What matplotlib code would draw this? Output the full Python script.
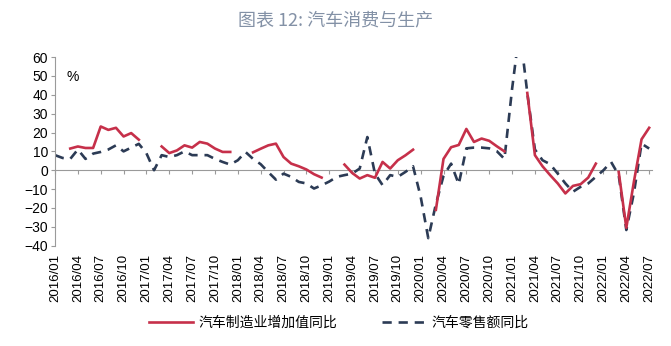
import numpy as np
import matplotlib
matplotlib.use("Agg")
from matplotlib import pyplot as plt

plt.rcParams['font.family'] = ['Liberation Sans', 'Noto Sans CJK SC', 'DejaVu Sans']

nan = np.nan

# Months 2016/01 .. 2022/07
months = ["%d/%02d" % (2016 + k // 12, k % 12 + 1) for k in range(79)]

# 汽车制造业增加值同比 (%)
manuf = [nan, nan, 11.5, 12.6, 11.8, 11.8, 23.2, 21.4, 22.5, 17.9, 19.7, 16.2,
         nan, nan, 12.6, 9.1, 10.5, 13.2, 12.0, 15.0, 14.1, 11.5, 9.7, 9.7,
         nan, nan, 9.5, 11.4, 13.2, 14.1, 7.0, 3.5, 2.1, 0.4, -2.1, -3.9,
         nan, nan, 3.0, -1.4, -4.4, -2.6, -4.0, 4.4, 0.9, 5.3, 7.9, 10.9,
         nan, nan, -21.0, 6.0, 12.2, 13.4, 21.9, 15.0, 16.8, 15.6, 12.7, 10.0,
         nan, nan, 41.0, 8.0, 2.1, -2.6, -7.0, -12.3, -8.3, -7.4, -3.9, 3.5,
         nan, nan, -0.9, -30.5, -6.0, 16.4, 22.5]

# 汽车零售额同比 (%)
retail = [8.0, 6.5, 6.0, 11.0, 6.0, 8.8, 9.7, 11.0, 13.2, 10.0, 12.0, 14.0,
          9.0, 0.0, 8.0, 7.0, 8.0, 10.0, 8.0, 8.0, 8.0, 6.0, 4.4, 3.0,
          5.3, 9.7, 6.0, 3.2, -1.0, -5.0, -1.8, -3.5, -6.2, -7.0, -9.7, -8.0,
          -6.0, -3.5, -2.6, -1.8, 0.9, 17.6, -1.8, -7.9, -2.6, -3.5, -0.9, 2.1,
          -14.0, -36.0, -18.0, -3.0, 3.5, -7.4, 11.6, 12.0, 12.0, 11.6, 10.1, 6.0,
          43.0, 75.0, 41.0, 11.0, 5.3, 3.2, -1.8, -7.0, -11.4, -8.8, -7.0, -3.5,
          0.0, 4.4, -2.6, -31.7, -12.0, 14.1, 11.5]

x = np.arange(len(months))
red = '#c6304a'
navy = '#2c3b55'
grey = '#9a9a9a'

fig = plt.figure(figsize=(6.71, 3.46), dpi=100)
ax = fig.add_axes([0.082, 0.29, 0.89, 0.545])

ax.plot(x, manuf, color=red, lw=1.9, label='汽车制造业增加值同比', zorder=3)
ax.plot(x, retail, color=navy, lw=1.9, dashes=(3.5, 2.6),
        label='汽车零售额同比', zorder=2)

ax.set_ylim(-40, 60)
ax.set_xlim(0, 78.4)
ax.set_yticks(np.arange(-40, 61, 10))
ax.tick_params(axis='y', labelsize=10, length=3, color=grey, pad=2)

ax.set_xticks(x[::3])
ax.set_xticklabels(months[::3], rotation=90, fontsize=9.5)
ax.tick_params(axis='x', length=0, pad=6)

for s in ['top', 'right', 'bottom']:
    ax.spines[s].set_visible(False)
ax.spines['left'].set_color(grey)

# zero line with tick marks
zero = ax.secondary_xaxis(0.4)
zero.set_xticks(x[::3])
zero.set_xticklabels([])
zero.tick_params(axis='x', length=3, color=grey, direction='out')
zero.spines['bottom'].set_color(grey)

ax.text(0.02, 0.93, '%', transform=ax.transAxes, fontsize=10, va='top')

fig.text(0.5, 0.94, '图表 12: 汽车消费与生产', ha='center', va='center',
         fontsize=13, color='#8391a6', family=['Noto Sans CJK SC', 'DejaVu Sans'])

leg = fig.legend(loc='center', bbox_to_anchor=(0.505, 0.068), ncol=2,
                 frameon=False, handlelength=3.2, columnspacing=3.2,
                 handletextpad=0.4,
                 prop={'family': ['Noto Sans CJK SC', 'DejaVu Sans'], 'size': 10})

fig.savefig('out.png', dpi=100)
